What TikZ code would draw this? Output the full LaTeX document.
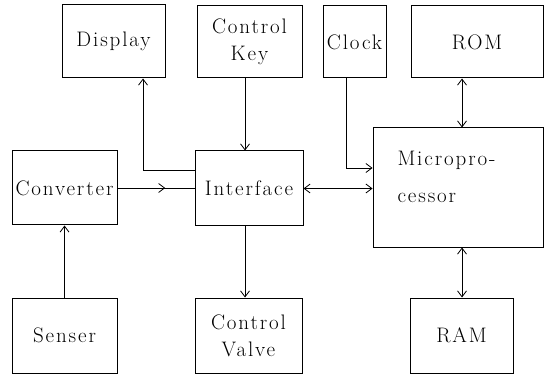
\documentclass[tikz,border=0pt]{standalone}
\usepackage{fontspec}
\newfontfamily\blkfont{Latin Modern Roman}[LetterSpace=9]
\usetikzlibrary{arrows.meta,decorations.markings,calc}

\begin{document}
\begin{tikzpicture}[
    x=1pt, y=-1pt,
    >={Straight Barb[length=6pt,width=9pt]},
    blk/.style ={
        draw=black,
        line width=1pt,
        align=center,
        inner sep=2pt,
        font=\blkfont\fontsize{21}{27}\selectfont
    },
    wire/.style ={
        line width=0.8pt
    },
    midarrow/.style ={
        decoration={markings, mark=at position 0.62 with {\arrow{>}}},
        postaction={decorate}
    }
    ]
    \useasboundingbox (0,0) rectangle (552,377);

    \foreach \n/ \x/ \y/ \w/ \h/ \t in {Display/113.5/41.5/103/73/Display,
                                       CtrlKey/249.5/42/105/72/{Control\\Key},
                                       Clock/354.5/42/63/72/Clock,
                                       ROM/477/42/132/72/ROM,
                                       Converter/64.5/188/105/74/Converter,
                                       Interface/249/188.5/108/75/Interface,
                                       Senser/64.5/335.5/105/75/Senser,
                                       Valve/248.5/335.5/107/75/{Control\\Valve},
                                       RAM/461.5/335.5/103/75/RAM}
        \node[blk, minimum width=\w pt, minimum height=\h pt] (\n) at (\x,\y) {\t};

    \node[blk, minimum width=170pt, minimum height=119pt] (Micro) at (458,187.5) {};
    \node[blk, draw=none, align=left, anchor=north west] (MicroText) at (395,149)
        {Micropro-\\[10pt]cessor};

    % turning points of the wires
    \coordinate (dispTurn) at (143,170);
    \coordinate (clkTurn) at (346,168);
    \coordinate (keyX) at (245,0);
    \coordinate (busX) at (462,0);

    \draw[wire,->] (dispTurn -| Interface.west) -| (Display.south -| dispTurn);
    \draw[wire,->] (CtrlKey.south -| keyX) -- (Interface.north -| keyX);
    \draw[wire,->] (Interface.south -| keyX) -- (Valve.north -| keyX);
    \draw[wire,midarrow] (Converter.east) -- (Interface.west |- Converter.east);
    \draw[wire,->] (Senser.north) -- (Converter.south);
    \draw[wire,<->] (Interface.east) -- (Interface.east -| Micro.west);
    \draw[wire,->] (Clock.south -| clkTurn) |- (Micro.west |- clkTurn);
    \draw[wire,<->] (ROM.south -| busX) -- (Micro.north -| busX);
    \draw[wire,<->] (Micro.south -| busX) -- (RAM.north -| busX);
\end{tikzpicture}
\end{document}
